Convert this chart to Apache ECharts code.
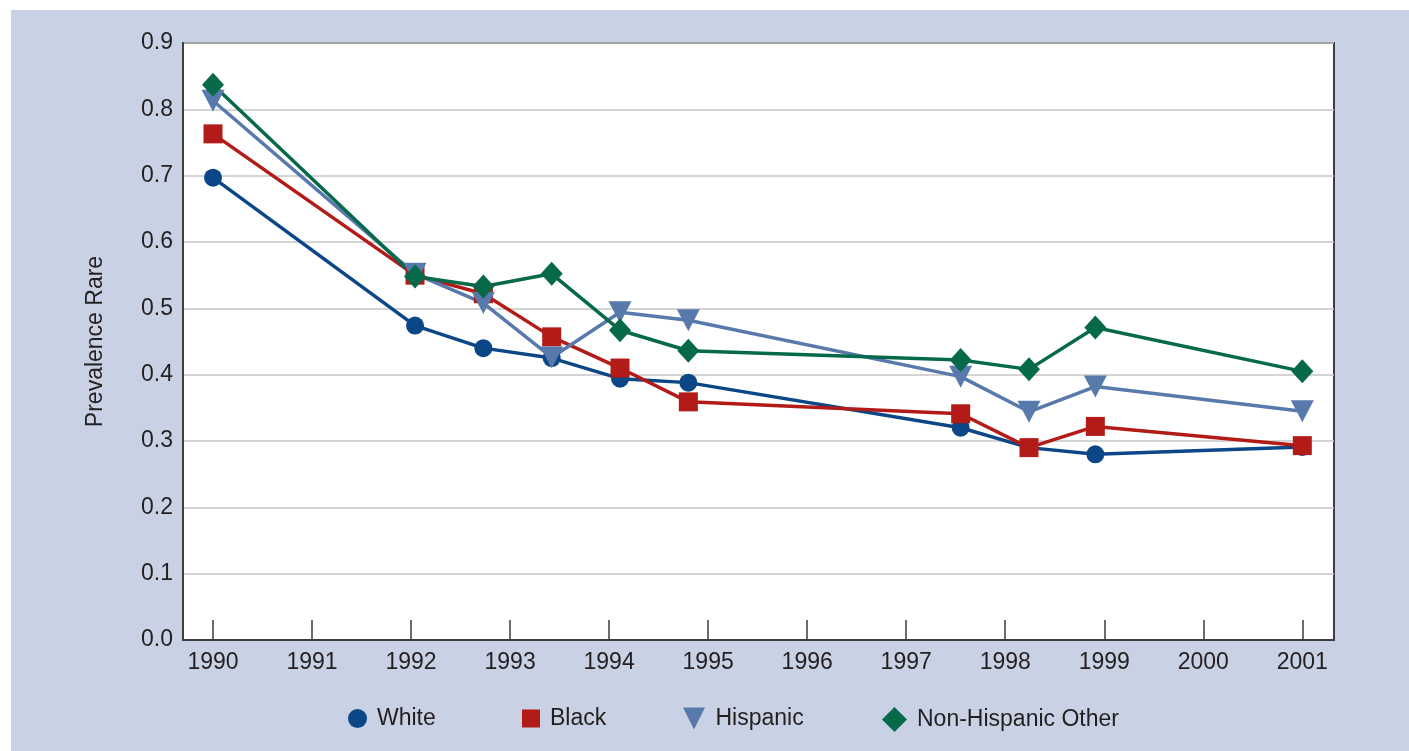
<!DOCTYPE html>
<html>
<head>
<meta charset="utf-8">
<script src="https://cdn.jsdelivr.net/npm/echarts@6/dist/echarts.min.js"></script>
<style>
  html, body { margin: 0; padding: 0; background: #fff; }
  #chart { position: absolute; left: 11px; top: 10px; width: 1398px; height: 741px; background: #c9d2e5; }
</style>
</head>
<body>
<div id="chart"></div>
<script>
// survey dates (fractional years) and prevalence per group
const years = [1990, 1992.04, 1992.73, 1993.42, 1994.11, 1994.8, 1997.55, 1998.24, 1998.91, 2001]
const white = [0.697, 0.474, 0.440, 0.425, 0.394, 0.388, 0.320, 0.290, 0.280, 0.291]
const black = [0.763, 0.550, 0.522, 0.457, 0.410, 0.359, 0.341, 0.290, 0.322, 0.293]
const hispanic = [0.813, 0.552, 0.508, 0.426, 0.494, 0.482, 0.397, 0.344, 0.382, 0.345]
const other = [0.837, 0.548, 0.533, 0.552, 0.467, 0.436, 0.422, 0.408, 0.471, 0.405]
const yearTicks = [1990, 1991, 1992, 1993, 1994, 1995, 1996, 1997, 1998, 1999, 2000, 2001]

const font = "'Liberation Sans', Arial, sans-serif"
const textColor = '#231f20'
const axisColor = '#3d3d3f'
const downTriangle = 'path://M0,0 L10,0 L5,10 Z'

const pairs = vals => vals.map((v, i) => [years[i], v])

const makeSeries = (name, vals, color, symbol, size) => ({
  name,
  type: 'line',
  data: pairs(vals),
  symbol,
  symbolSize: size,
  showAllSymbol: true,
  lineStyle: { color, width: 3.5 },
  itemStyle: { color },
  emphasis: { disabled: true }
})

// one legend per entry so each icon keeps its own size and spot
const legendItem = (name, icon, left, w, h) => ({
  data: [{ name, icon }],
  left,
  top: 697,
  padding: 0,
  itemWidth: w,
  itemHeight: h,
  textStyle: { fontSize: 23, color: textColor, fontFamily: font, padding: [0, 0, 0, 5] }
})

const chart = echarts.init(document.getElementById('chart'), null, { renderer: 'canvas' })

chart.setOption({
  animation: false,
  textStyle: { fontFamily: font },
  grid: {
    left: 172, right: 75, top: 33, bottom: 111,
    show: true,
    backgroundColor: '#ffffff',
    borderColor: axisColor,
    borderWidth: 2
  },
  legend: [
    legendItem('White', 'circle', 337, 19, 19),
    legendItem('Black', 'rect', 511, 18, 18),
    legendItem('Hispanic', downTriangle, 672, 23, 22),
    legendItem('Non-Hispanic Other', 'diamond', 871, 25, 25)
  ],
  xAxis: {
    type: 'value',
    min: 1989.697,
    max: 2001.32,
    axisLine: { show: true, lineStyle: { color: axisColor, width: 2 } },
    axisTick: {
      show: true,
      inside: true,
      length: 20,
      customValues: yearTicks,
      lineStyle: { color: axisColor, width: 1.5 }
    },
    axisLabel: {
      customValues: yearTicks,
      fontSize: 23,
      color: textColor,
      margin: 11,
      formatter: v => String(v)
    },
    splitLine: { show: false }
  },
  yAxis: {
    type: 'value',
    min: 0,
    max: 0.9,
    interval: 0.1,
    name: 'Prevalence Rare',
    nameLocation: 'middle',
    nameGap: 76,
    nameTextStyle: { fontSize: 23, color: textColor, fontFamily: font },
    axisLine: { show: true, lineStyle: { color: axisColor, width: 2 } },
    axisTick: { show: false },
    axisLabel: {
      fontSize: 23,
      color: textColor,
      margin: 10,
      formatter: v => v.toFixed(1)
    },
    splitLine: { show: true, lineStyle: { color: '#c6c6c6', width: 1.5 } }
  },
  series: [
    makeSeries('White', white, '#0b4787', 'circle', 18),
    makeSeries('Black', black, '#b21b17', 'rect', 19),
    makeSeries('Hispanic', hispanic, '#5879ab', downTriangle, [23, 22]),
    makeSeries('Non-Hispanic Other', other, '#066a4a', 'diamond', [22, 24])
  ]
})
</script>
</body>
</html>
